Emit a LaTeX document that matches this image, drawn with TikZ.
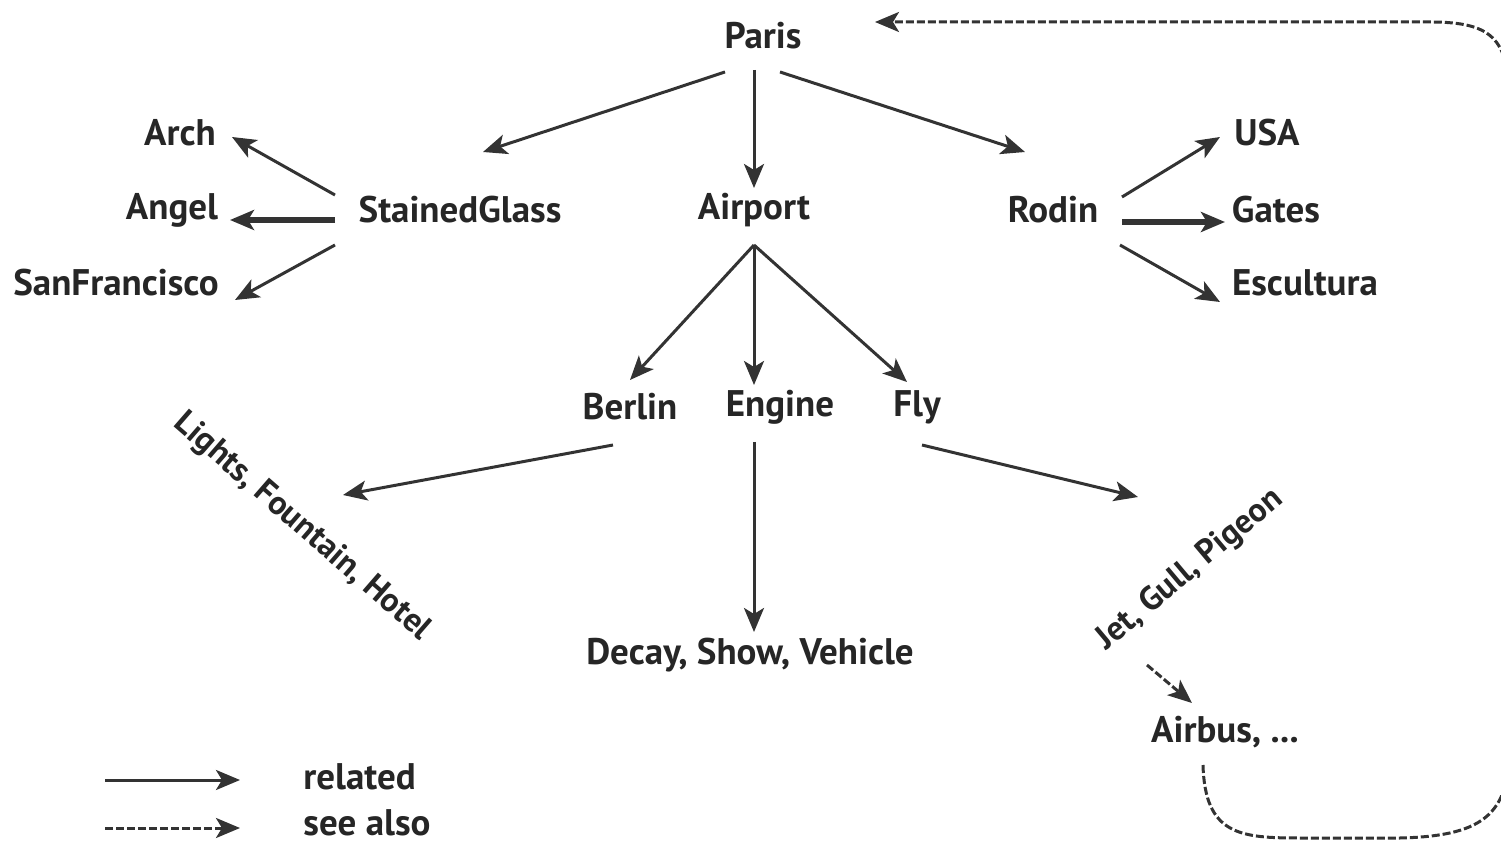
\documentclass[tikz,border=0pt]{standalone}
\usepackage{fontspec}
\setmainfont{PT Sans}
\usetikzlibrary{arrows.meta,calc}
\begin{document}
\begin{tikzpicture}[x=0.5pt,y=-0.5pt,
  lbl/.style={font=\fontsize{18.5}{22}\selectfont\bfseries, text=black!85, inner sep=1pt},
  rlbl/.style={lbl, font=\fontsize{16.8}{20}\selectfont\bfseries},
  rel/.style={draw=black!80, line width=1.5pt, -{Stealth[length=12pt,width=10pt,inset=3pt]}},
  relthick/.style={rel, line width=2.8pt},
  seealso/.style={rel, dash pattern=on 4pt off 1.5pt}
]
\useasboundingbox (0,0) rectangle (1501,845);
\clip (0,0) rectangle (1501,845);
% nodes
\node[lbl] (paris) at (763,36) {Paris};
\node[lbl] (arch) at (180,133) {Arch};
\node[lbl] (angel) at (172,210) {Angel};
\node[lbl] (sf) at (116,283) {SanFrancisco};
\node[lbl] (sg) at (460,210) {StainedGlass};
\node[lbl] (airport) at (754,210) {Airport};
\node[lbl] (rodin) at (1053,210) {Rodin};
\node[lbl] (usa) at (1267,133) {USA};
\node[lbl] (gates) at (1276,210) {Gates};
\node[lbl] (esc) at (1305,283) {Escultura};
\node[lbl] (berlin) at (630,407) {Berlin};
\node[lbl] (engine) at (780,407) {Engine};
\node[lbl] (fly) at (917,407) {Fly};
\node[rlbl, rotate=-41] (lights) at (302,527) {Lights, Fountain, Hotel};
\node[lbl] (decay) at (750,655) {Decay, Show, Vehicle};
\node[rlbl, rotate=40] (jet) at (1190,570) {Jet, Gull, Pigeon};
\node[lbl] (airbus) at (1225,732) {Airbus, ...};
% legend
\coordinate (r1) at (105,780); \coordinate (r2) at (240,780);
\coordinate (s1) at (105,828); \coordinate (s2) at (240,828);
\node[lbl, anchor=west] (lrel) at (301,777) {related};
\node[lbl, anchor=west] (lsee) at (301,823) {see also};
\draw[rel] (r1) -- (r2);
\draw[seealso] (s1) -- (s2);
% edge end points
\coordinate (p1) at (725,72);  \coordinate (p1e) at (483,152);
\coordinate (p2) at (754,70);  \coordinate (p2e) at (754,188);
\coordinate (p3) at (780,72);  \coordinate (p3e) at (1025,152);
\coordinate (sg0) at (335,195); \coordinate (sg1) at (335,220); \coordinate (sg2) at (335,245);
\coordinate (ro0) at (1122,197); \coordinate (ro1) at (1122,222); \coordinate (ro2) at (1120,245);
\coordinate (ap) at (754,245);
\coordinate (be) at (613,445); \coordinate (lt) at (343,495);
\coordinate (en) at (754,442); \coordinate (de) at (754,632);
\coordinate (fl) at (922,445); \coordinate (jt) at (1138,497);
\coordinate (jb) at (1147,665); \coordinate (ab) at (1192,703);
% edges
\draw[rel] (p1) -- (p1e);
\draw[rel] (p2) -- (p2e);
\draw[rel] (p3) -- (p3e);
\draw[rel] (sg0) -- (232,137);
\draw[relthick] (sg1) -- (230,220);
\draw[rel] (sg2) -- (235,300);
\draw[rel] (ro0) -- (1220,137);
\draw[relthick] (ro1) -- (1225,222);
\draw[rel] (ro2) -- (1220,302);
\draw[rel] (ap) -- (630,380);
\draw[rel] (ap) -- (754,385);
\draw[rel] (ap) -- (907,382);
\draw[rel] (be) -- (lt);
\draw[rel] (en) -- (de);
\draw[rel] (fl) -- (jt);
\draw[seealso] (jb) -- (ab);
\coordinate (cs) at (1203,765);
\coordinate (ce) at (875,22);
\draw[seealso] (cs) .. controls (1205,835) and (1240,838) .. (1300,838) -- (1400,838) .. controls (1490,836) and (1510,810) .. (1510,740) -- (1510,110) .. controls (1510,40) and (1495,22) .. (1430,22) -- (ce);
\end{tikzpicture}
\end{document}
